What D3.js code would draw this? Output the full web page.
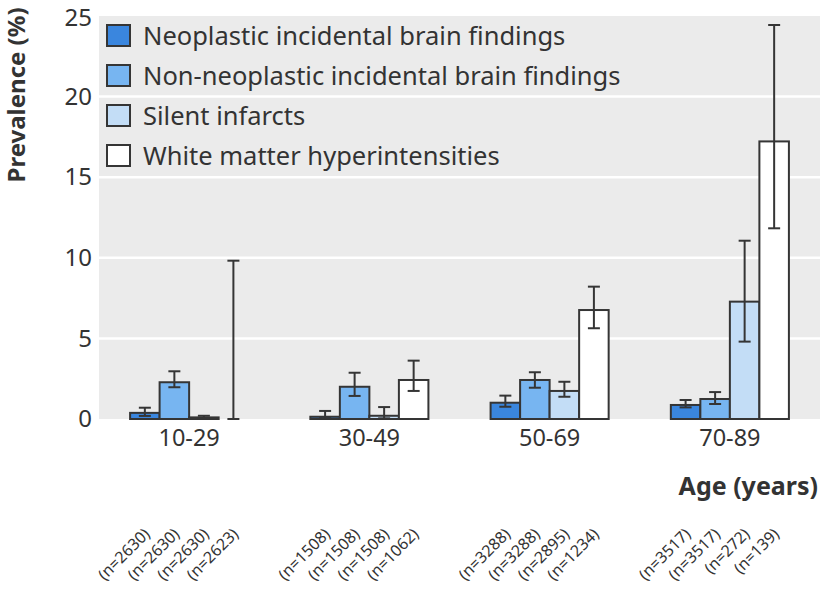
<!DOCTYPE html>
<html>
<head>
<meta charset="utf-8">
<script src="https://cdn.jsdelivr.net/npm/d3@7"></script>
<style>
  html, body { margin: 0; padding: 0; background: #ffffff; }
  svg { display: block; }
  text { font-family: "Noto Sans", "Open Sans", sans-serif; fill: #333333; }
</style>
</head>
<body>
<svg id="chart" width="820" height="592"></svg>
<script>
// ---- Data ----
const ageGroups = ["10-29", "30-49", "50-69", "70-89"];
const seriesNames = [
  "Neoplastic incidental brain findings",
  "Non-neoplastic incidental brain findings",
  "Silent infarcts",
  "White matter hyperintensities"
];
const seriesColors = ["#3a86de", "#77b5f1", "#c3ddf6", "#ffffff"];
// prevalence (%) per series, per age group
const neoplastic      = [0.38, 0.14, 1.01, 0.87];
const nonNeoplastic   = [2.28, 2.00, 2.42, 1.24];
const silentInfarcts  = [0.10, 0.20, 1.74, 7.28];
const whiteMatter     = [0.00, 2.42, 6.76, 17.22];
// 95% CI lower / upper
const neoplasticLo    = [0.19, 0.05, 0.76, 0.72];
const neoplasticHi    = [0.70, 0.50, 1.45, 1.18];
const nonNeoLo        = [1.97, 1.43, 1.94, 0.93];
const nonNeoHi        = [2.96, 2.87, 2.90, 1.67];
const silentLo        = [0.04, 0.04, 1.38, 4.80];
const silentHi        = [0.20, 0.74, 2.31, 11.06];
const wmhLo           = [0.00, 1.74, 5.63, 11.83];
const wmhHi           = [9.82, 3.62, 8.21, 24.44];
// sample sizes
const nNeoplastic     = [2630, 1508, 3288, 3517];
const nNonNeoplastic  = [2630, 1508, 3288, 3517];
const nSilent         = [2630, 1508, 2895, 272];
const nWMH            = [2623, 1062, 1234, 139];
const yTicks = [0, 5, 10, 15, 20, 25];

const values = [neoplastic, nonNeoplastic, silentInfarcts, whiteMatter];
const lows   = [neoplasticLo, nonNeoLo, silentLo, wmhLo];
const highs  = [neoplasticHi, nonNeoHi, silentHi, wmhHi];
const ns     = [nNeoplastic, nNonNeoplastic, nSilent, nWMH];

// ---- Layout ----
const svg = d3.select("#chart");
const plot = { left: 99, right: 820, top: 16, bottom: 419 };

const x0 = d3.scaleBand().domain(ageGroups)
  .range([plot.left, plot.right]).paddingInner(0.345).paddingOuter(0.1725);
const x1 = d3.scaleBand().domain(d3.range(seriesNames.length))
  .range([0, x0.bandwidth()]).padding(0);
const y = d3.scaleLinear().domain([0, 25]).range([plot.bottom, plot.top]);

// background
svg.append("rect")
  .attr("x", plot.left).attr("y", plot.top)
  .attr("width", plot.right - plot.left).attr("height", plot.bottom - plot.top)
  .attr("fill", "#ebebeb");

// gridlines
svg.append("g").selectAll("line")
  .data(yTicks.filter(t => t > 0 && t < 25))
  .join("line")
  .attr("x1", plot.left).attr("x2", plot.right)
  .attr("y1", d => y(d)).attr("y2", d => y(d))
  .attr("stroke", "#ffffff").attr("stroke-width", 2.5);

// y axis
const yAxis = svg.append("g")
  .attr("transform", `translate(${plot.left},0)`)
  .call(d3.axisLeft(y).tickValues(yTicks).tickSize(0).tickPadding(7));
yAxis.select(".domain").remove();
yAxis.selectAll("text")
  .style("font-family", '"Noto Sans", sans-serif')
  .style("font-size", "24px").attr("fill", "#333333");
yAxis.selectAll(".tick").filter(d => d === 25).select("text").attr("dy", "0.38em");

// y axis title
svg.append("text")
  .attr("transform", "translate(25,95) rotate(-90)")
  .attr("text-anchor", "middle")
  .style("font-size", "24px").style("font-weight", "bold")
  .text("Prevalence (%)");

// bars
const rows = [];
ageGroups.forEach((g, gi) => {
  seriesNames.forEach((s, si) => {
    rows.push({ g, gi, si, v: values[si][gi], lo: lows[si][gi], hi: highs[si][gi], n: ns[si][gi] });
  });
});

const bars = svg.append("g");
bars.selectAll("rect")
  .data(rows)
  .join("rect")
  .attr("x", d => x0(d.g) + x1(d.si))
  .attr("y", d => y(d.v))
  .attr("width", x1.bandwidth())
  .attr("height", d => y(0) - y(d.v))
  .attr("fill", d => seriesColors[d.si])
  .attr("stroke", "#353535").attr("stroke-width", 2);

// error bars
const eb = svg.append("g").attr("stroke", "#353535").attr("stroke-width", 2);
const cx = d => x0(d.g) + x1(d.si) + x1.bandwidth() / 2;
eb.selectAll("line.v").data(rows).join("line").attr("class", "v")
  .attr("x1", cx).attr("x2", cx)
  .attr("y1", d => y(d.lo)).attr("y2", d => y(d.hi));
eb.selectAll("line.t").data(rows).join("line").attr("class", "t")
  .attr("x1", d => cx(d) - 6).attr("x2", d => cx(d) + 6)
  .attr("y1", d => y(d.hi)).attr("y2", d => y(d.hi));
eb.selectAll("line.b").data(rows).join("line").attr("class", "b")
  .attr("x1", d => cx(d) - 6).attr("x2", d => cx(d) + 6)
  .attr("y1", d => y(d.lo)).attr("y2", d => y(d.lo));

// x axis category labels
const xAxis = svg.append("g")
  .attr("transform", `translate(0,${plot.bottom})`)
  .call(d3.axisBottom(x0).tickSize(0).tickPadding(10));
xAxis.select(".domain").remove();
xAxis.selectAll("text")
  .style("font-family", '"Noto Sans", sans-serif')
  .style("font-size", "23.5px").attr("fill", "#333333");

// x axis title
svg.append("text")
  .attr("x", 818).attr("y", 495)
  .attr("text-anchor", "end")
  .style("font-size", "25px").style("font-weight", "bold")
  .text("Age (years)");

// n labels
svg.append("g").selectAll("text")
  .data(rows)
  .join("text")
  .attr("transform", d => `translate(${cx(d) + 6},535) rotate(-45)`)
  .attr("text-anchor", "end")
  .style("font-size", "16px")
  .text(d => `(n=${d.n})`);

// legend
const legend = svg.append("g");
seriesNames.forEach((s, i) => {
  const gy = 25 + i * 40;
  legend.append("rect")
    .attr("x", 107).attr("y", gy).attr("width", 23).attr("height", 21)
    .attr("fill", seriesColors[i]).attr("stroke", "#353535").attr("stroke-width", 2);
  legend.append("text")
    .attr("x", 143).attr("y", gy + 20)
    .style("font-size", "25.5px")
    .text(s);
});
</script>
</body>
</html>
